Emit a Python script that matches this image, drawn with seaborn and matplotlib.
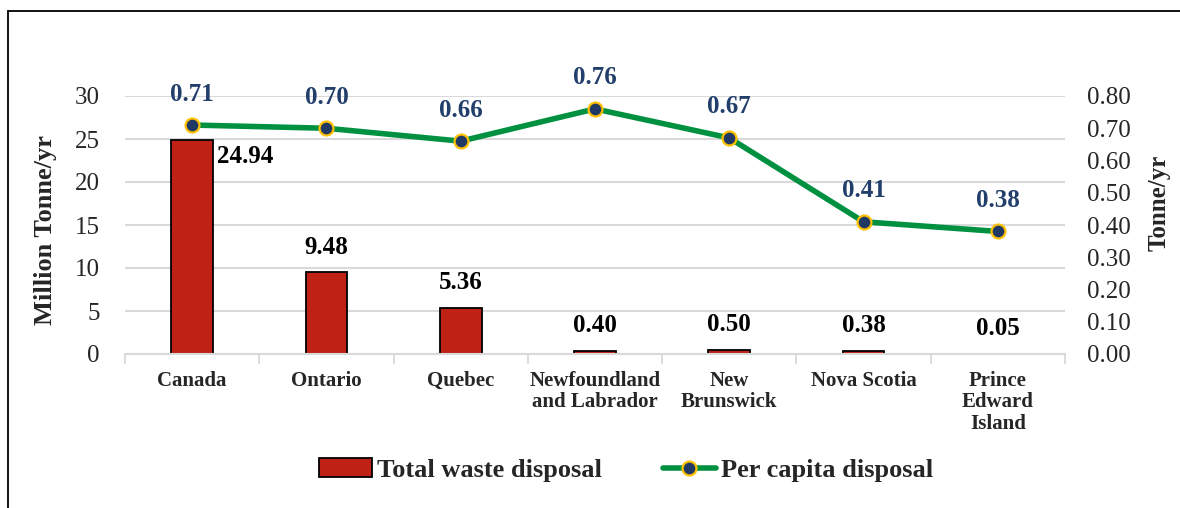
import matplotlib
matplotlib.use("Agg")
import matplotlib.pyplot as plt
import seaborn as sns
import pandas as pd
import numpy as np
from matplotlib.patches import Patch
from matplotlib.lines import Line2D

categories = ["Canada", "Ontario", "Quebec", "Newfoundland\nand Labrador",
              "New\nBrunswick", "Nova Scotia", "Prince\nEdward\nIsland"]
total_waste = [24.94, 9.48, 5.36, 0.40, 0.50, 0.38, 0.05]
per_capita = [0.71, 0.70, 0.66, 0.76, 0.67, 0.41, 0.38]
left_ticks = [0, 5, 10, 15, 20, 25, 30]
right_ticks = [0.0, 0.1, 0.2, 0.3, 0.4, 0.5, 0.6, 0.7, 0.8]

BAR_C = "#BF2114"
LINE_C = "#009140"
MK_FACE = "#1F3864"
MK_EDGE = "#FFC000"
LBL_BLUE = "#223F6B"
GRID_C = "#D9D9D9"

df = pd.DataFrame({"cat": categories, "total": total_waste, "pc": per_capita})

sns.set_theme(style="white")
plt.rcParams["font.family"] = ["Liberation Serif", "DejaVu Serif"]

fig = plt.figure(figsize=(11.8, 5.08), dpi=100)
ax = fig.add_axes([125/1180, 1-354/508, (1065-125)/1180, (354-96)/508])

sns.barplot(data=df, x="cat", y="total", order=categories, color=BAR_C,
            width=0.31, edgecolor="black", linewidth=1.3, saturation=1,
            ax=ax, zorder=2)
ax.set_xlim(-0.5, len(categories) - 0.5)
ax.set_ylim(0, 30)
ax.set_yticks(left_ticks)
ax.set_yticklabels([str(t) for t in left_ticks], fontsize=18)
ax.yaxis.grid(True, color=GRID_C, linewidth=1.5, zorder=0)
ax.set_axisbelow(True)
for s in ["left", "right", "top"]:
    ax.spines[s].set_visible(False)
ax.spines["bottom"].set_color(GRID_C)
ax.spines["bottom"].set_linewidth(1.5)
ax.set_xlabel("")
ax.set_ylabel("Million Tonne/yr", fontsize=19, fontweight="bold")
ax.yaxis.set_label_coords((57-125)/940, (354-230)/258)
ax.set_xticks(range(len(categories)))
ax.set_xticklabels(categories, fontsize=15, fontweight="bold", linespacing=1.1)
ax.tick_params(axis="x", which="major", length=0, pad=12)
ax.set_xticks(np.arange(-0.5, len(categories), 1.0), minor=True)
ax.tick_params(axis="x", which="minor", bottom=True, length=7, width=1.3,
               color=GRID_C, direction="out")
ax.tick_params(axis="y", length=0, pad=18)

# bar value labels
for i, v in enumerate(total_waste):
    if i == 0:
        ax.annotate(f"{v:.2f}", (i + 0.155, v), xytext=(3, -4), textcoords="offset points",
                    ha="left", va="top", fontsize=18, fontweight="bold", color="black")
    else:
        ax.annotate(f"{v:.2f}", (i, v), xytext=(0, 10), textcoords="offset points",
                    ha="center", va="bottom", fontsize=18, fontweight="bold", color="black")

ax2 = ax.twinx()
sns.pointplot(data=df, x="cat", y="pc", order=categories, color=LINE_C,
              errorbar=None, ax=ax2, markers="o", linestyles="-",
              linewidth=4, markersize=10, markerfacecolor=MK_FACE,
              markeredgecolor=MK_EDGE, markeredgewidth=1.6)
ax2.set_xlim(-0.5, len(categories) - 0.5)
ax2.set_ylim(0, 0.8)
ax2.set_yticks(right_ticks)
ax2.set_yticklabels([f"{t:.2f}" for t in right_ticks], fontsize=18)
ax2.tick_params(axis="y", length=0, pad=16)
ax2.grid(False)
for s in ["left", "right", "top", "bottom"]:
    ax2.spines[s].set_visible(False)
ax2.set_xlabel("")
ax2.set_ylabel("Tonne/yr", fontsize=18, fontweight="bold")
ax2.yaxis.set_label_coords((1148-125)/940, (354-203)/258)

for i, v in enumerate(per_capita):
    ax2.annotate(f"{v:.2f}", (i, v), xytext=(0, 14), textcoords="offset points",
                 ha="center", va="bottom", fontsize=18, fontweight="bold", color=LBL_BLUE)

handles = [Patch(facecolor=BAR_C, edgecolor="black", linewidth=1.3),
           Line2D([0], [0], color=LINE_C, linewidth=4, marker="o", markersize=10,
                  markerfacecolor=MK_FACE, markeredgecolor=MK_EDGE, markeredgewidth=1.6)]
leg = fig.legend(handles, ["Total waste disposal", "Per capita disposal"],
                 loc="center", bbox_to_anchor=(626/1180, 1-470/508), ncol=2, frameon=False,
                 prop={"size": 19, "weight": "bold"}, handlelength=2.0,
                 handletextpad=0.2, columnspacing=2.3)

# outer frame (left and top edges)
fig.add_artist(Line2D([8/1180, 8/1180], [0, 1-11/508], transform=fig.transFigure,
                      color="black", linewidth=1.3))
fig.add_artist(Line2D([8/1180, 1], [1-11/508, 1-11/508], transform=fig.transFigure,
                      color="black", linewidth=1.3))

fig.savefig("out.png", dpi=100, facecolor="white")
